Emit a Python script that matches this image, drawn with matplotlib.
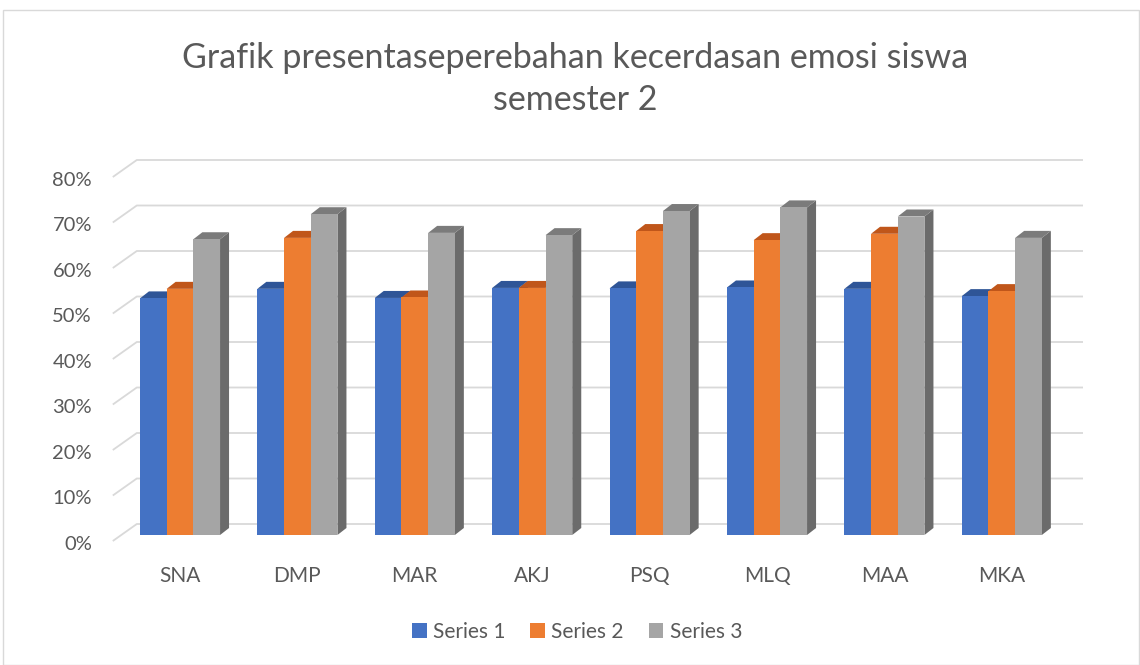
import matplotlib.pyplot as plt
from matplotlib.patches import Polygon, Patch, Rectangle

plt.rcParams['font.family'] = ['Lato', 'DejaVu Sans']

categories = ['SNA', 'DMP', 'MAR', 'AKJ', 'PSQ', 'MLQ', 'MAA', 'MKA']
series1 = [52.0, 54.1, 52.1, 54.3, 54.2, 54.4, 54.1, 52.5]
series2 = [54.1, 65.3, 52.2, 54.3, 66.8, 64.8, 66.2, 53.6]
series3 = [65.0, 70.5, 66.4, 65.9, 71.2, 72.0, 70.0, 65.3]
series_names = ['Series 1', 'Series 2', 'Series 3']
ticks = [0, 10, 20, 30, 40, 50, 60, 70, 80]
title = 'Grafik presentaseperebahan kecerdasan emosi siswa\nsemester 2'

front_cols = ['#4472C4', '#ED7D31', '#A5A5A5']
top_cols = ['#2F5597', '#C0561A', '#7B7B7B']
side_cols = ['#2A4C8A', '#A84C14', '#6B6B6B']
txt = '#595959'
grid = '#D9D9D9'

W, H = 1140, 665
# pixel scale of the chart (bar plane): category spacing, px per percent
x0_px, step_px = 180, 117.4
y0_px, pct_px = 535, 4.55

fig = plt.figure(figsize=(W / 100, H / 100), dpi=100)
ax_l, ax_r, ax_t, ax_b = 40, 1100, 130, 600
ax = fig.add_axes([ax_l / W, (H - ax_b) / H, (ax_r - ax_l) / W, (ax_b - ax_t) / H])
ax.set_xlim((ax_l - x0_px) / step_px, (ax_r - x0_px) / step_px)
ax.set_ylim((y0_px - ax_b) / pct_px, (y0_px - ax_t) / pct_px)
ax.axis('off')

bw = 26.7 / step_px
top_dx, top_dy = 9 / step_px, 7 / pct_px
back_dx, back_dy = 15.5 / step_px, 11 / pct_px
front_dx, front_dy = -8.5 / step_px, -6 / pct_px
wall_l = -0.5
wall_r = (1083 - x0_px) / step_px

# back wall gridlines + left wall diagonals
for t in ticks:
    ax.plot([wall_l + front_dx, wall_l + back_dx, wall_r],
            [t + front_dy, t + back_dy, t + back_dy],
            color=grid, lw=1.3, solid_capstyle='butt', zorder=1)
    ax.text((92 - x0_px) / step_px, t + front_dy - 0.7, f'{t}%',
            ha='right', va='center', fontsize=14.5, color=txt)

data = [series1, series2, series3]
for i, cat in enumerate(categories):
    for s in range(3):
        h = data[s][i]
        l = i + (s - 1.5) * bw
        r = l + bw
        z = 2 + i * 3 + s
        ax.add_patch(Polygon([(r, 0), (r + top_dx, top_dy), (r + top_dx, h + top_dy), (r, h)],
                             closed=True, fc=side_cols[s], ec='none', zorder=z))
        ax.add_patch(Polygon([(l, h), (r, h), (r + top_dx, h + top_dy), (l + top_dx, h + top_dy)],
                             closed=True, fc=top_cols[s], ec='none', zorder=z))
        ax.add_patch(Rectangle((l, 0), bw, h, fc=front_cols[s], ec='none', zorder=z))
    ax.text(i, (y0_px - 576) / pct_px, cat, ha='center', va='center',
            fontsize=15, color=txt)

fig.text(575 / W, 1 - 79 / H, title, ha='center', va='center', fontsize=24.5,
         color=txt, linespacing=1.4)

handles = [Patch(fc=c, ec='none') for c in front_cols]
fig.legend(handles, series_names, loc='center', bbox_to_anchor=(577 / W, 1 - 632 / H),
           ncol=3, frameon=False, fontsize=15, handlelength=0.7, handleheight=0.7,
           handletextpad=0.3, columnspacing=1.2, labelcolor=txt)

fig.add_artist(Rectangle((3 / W, 0.5 / H), (W - 4) / W, (H - 10) / H,
                         transform=fig.transFigure, fill=False, ec=grid, lw=1))

fig.savefig('out.png', dpi=100)
